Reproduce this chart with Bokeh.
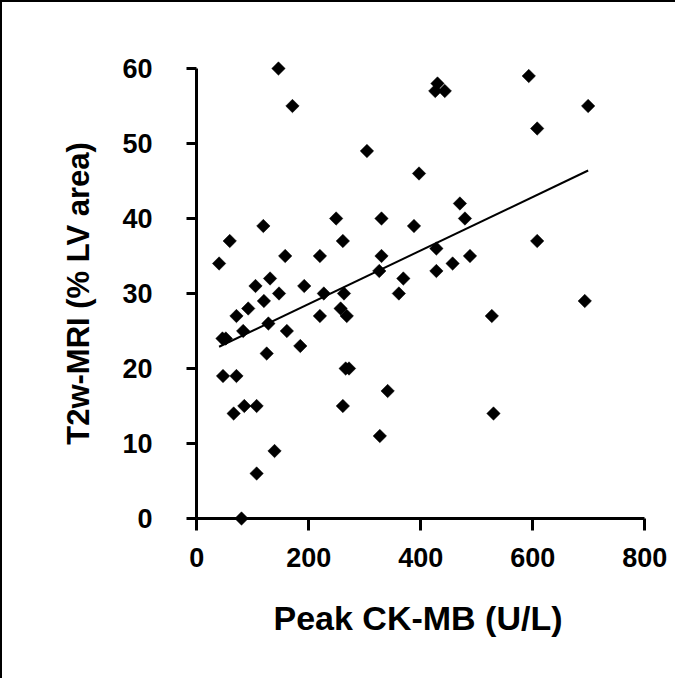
import math
from bokeh.plotting import figure
from bokeh.models import Range1d, FixedTicker, ColumnDataSource, LinearAxis
from bokeh.embed import file_html
from bokeh.resources import INLINE

# Data
ck_mb = [40, 59, 46, 52, 47, 71, 66, 85, 107, 71, 92, 83, 80, 105, 119, 120, 131, 128,
         125, 107, 139, 146, 171, 158, 147, 161, 192, 185, 220, 220, 227, 249, 261, 263,
         257, 268, 266, 272, 261, 304, 330, 330, 326, 327, 341, 361, 369, 388, 397, 430,
         426, 443, 428, 428, 457, 470, 479, 488, 527, 530, 593, 608, 608, 699, 693]
t2w_mri = [34, 37, 24, 24, 19, 19, 14, 15, 15, 27, 28, 25, 0, 31, 39, 29, 32, 26,
           22, 6, 9, 60, 55, 35, 30, 25, 31, 23, 35, 27, 30, 40, 37, 30,
           28, 27, 20, 20, 15, 49, 40, 35, 33, 11, 17, 30, 32, 39, 46, 58,
           57, 57, 36, 33, 34, 42, 40, 35, 27, 14, 59, 52, 37, 55, 29]
trend_x = [40, 699]
trend_y = [22.9, 46.4]
x_ticks = [0, 200, 400, 600, 800]
y_ticks = [0, 10, 20, 30, 40, 50, 60]

FONT = "Liberation Sans"

p = figure(width=675, height=678, output_backend="svg", toolbar_location=None,
           x_range=Range1d(-20, 810.36), y_range=Range1d(-2, 62),
           x_axis_location=None, y_axis_location=None,
           min_border_left=183, min_border_right=27, min_border_top=51, min_border_bottom=147)
p.styles = {"border-top": "2px solid black", "border-left": "2px solid black"}
p.outline_line_color = None
p.xgrid.visible = False
p.ygrid.visible = False
p.background_fill_color = "white"
p.border_fill_color = "white"

src = ColumnDataSource(dict(x=ck_mb, y=t2w_mri))
p.scatter("x", "y", source=src, marker="square", angle=math.pi / 4, size=9.5,
          fill_color="black", line_color="black", line_width=0.5)
p.line(trend_x, trend_y, line_color="black", line_width=2)

# Axes drawn at data zero: lines and ticks only
xline = LinearAxis(ticker=FixedTicker(ticks=x_ticks), fixed_location=0, bounds=(0, 800))
yline = LinearAxis(ticker=FixedTicker(ticks=y_ticks), fixed_location=0, bounds=(0, 60))
for ax in (xline, yline):
    ax.axis_line_width = 3
    ax.axis_line_color = "black"
    ax.major_tick_line_width = 3
    ax.major_tick_line_color = "black"
    ax.major_tick_in = 0
    ax.minor_tick_line_color = None
    ax.major_label_text_color = None
    ax.major_label_text_font_size = "0px"
xline.major_tick_out = 12
yline.major_tick_out = 10
p.add_layout(xline, "below")
p.add_layout(yline, "left")

# Axes at the frame edges: labels and titles only
xlab = LinearAxis(ticker=FixedTicker(ticks=x_ticks), axis_label="Peak CK-MB (U/L)")
ylab = LinearAxis(ticker=FixedTicker(ticks=y_ticks), axis_label="T2w-MRI (% LV area)")
for ax in (xlab, ylab):
    ax.axis_line_color = None
    ax.major_tick_line_color = None
    ax.minor_tick_line_color = None
    ax.major_tick_in = 0
    ax.major_tick_out = 0
    ax.major_label_text_font = FONT
    ax.major_label_text_font_style = "bold"
    ax.major_label_text_font_size = "27px"
    ax.major_label_text_color = "black"
    ax.axis_label_text_font = FONT
    ax.axis_label_text_font_style = "bold"
    ax.axis_label_text_color = "black"
xlab.axis_label_text_font_size = "34px"
ylab.axis_label_text_font_size = "31px"
xlab.major_label_standoff = 14
ylab.major_label_standoff = 33
xlab.axis_label_standoff = 29
ylab.axis_label_standoff = 23
p.add_layout(xlab, "below")
p.add_layout(ylab, "left")

open("out.html", "w").write(file_html(p, INLINE))
